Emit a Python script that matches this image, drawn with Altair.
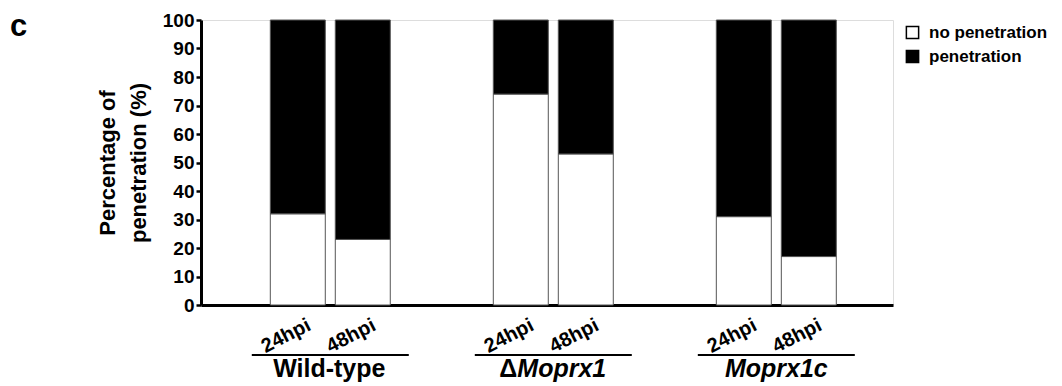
import altair as alt
import pandas as pd

panel_label = ["c"]
groups = ["Wild-type", "ΔMoprx1", "Moprx1c"]
times = ["24hpi", "48hpi"]
bar_group = ["Wild-type", "Wild-type", "ΔMoprx1", "ΔMoprx1", "Moprx1c", "Moprx1c"]
bar_time = ["24hpi", "48hpi", "24hpi", "48hpi", "24hpi", "48hpi"]
no_penetration = [32, 23, 74, 53, 31, 17]
penetration = [68, 77, 26, 47, 69, 83]
series = ["no penetration", "penetration"]
series_colors = ["white", "black"]
y_ticks = [0, 10, 20, 30, 40, 50, 60, 70, 80, 90, 100]
y_title = ["Percentage of", "penetration (%)"]

rows = []
for g, t, a, b in zip(bar_group, bar_time, no_penetration, penetration):
    rows.append(dict(group=g, time=t, status=series[0], value=a, order=0))
    rows.append(dict(group=g, time=t, status=series[1], value=b, order=1))
df = pd.DataFrame(rows)
bars_df = pd.DataFrame({"group": bar_group, "time": bar_time})
groups_df = pd.DataFrame({"group": groups})

FONT = "Liberation Sans"

xscale = alt.Scale(domain=groups, paddingInner=0.462, paddingOuter=0.2825, align=0.55)
xoscale = alt.Scale(domain=times, paddingInner=0.154, paddingOuter=0)

bars = alt.Chart(df).mark_bar(stroke="#555555", strokeWidth=1).encode(
    x=alt.X("group:N", scale=xscale, sort=groups,
            axis=alt.Axis(labels=False, ticks=False, title=None, domainWidth=3,
                          domainColor="black", grid=False)),
    xOffset=alt.XOffset("time:N", scale=xoscale, sort=times),
    y=alt.Y("value:Q", stack="zero", scale=alt.Scale(domain=[0, 100]),
            axis=alt.Axis(values=y_ticks, tickSize=5, tickWidth=2.5, tickColor="black",
                          domainWidth=3, domainColor="black", labelFont=FONT,
                          labelFontSize=19, labelFontWeight="bold", labelColor="black",
                          labelPadding=2, grid=False, title=y_title, titleFont=FONT,
                          titleFontSize=22, titleFontWeight="bold", titleColor="black",
                          titlePadding=12, titleLineHeight=31)),
    color=alt.Color("status:N", scale=alt.Scale(domain=series, range=series_colors),
                    legend=alt.Legend(title=None, orient="none", legendX=703, legendY=4,
                                      symbolType="square", symbolSize=150,
                                      symbolStrokeColor="black", symbolStrokeWidth=1.5,
                                      labelFont=FONT, labelFontSize=17,
                                      labelFontWeight="bold", labelColor="black",
                                      labelOffset=8, rowPadding=5, padding=0)),
    order=alt.Order("order:Q"),
)

time_text = alt.Chart(bars_df).mark_text(
    angle=333, align="right", baseline="middle", dx=13, font=FONT, fontSize=20,
    fontWeight="bold", color="black"
).encode(
    x=alt.X("group:N", sort=groups),
    xOffset=alt.XOffset("time:N", sort=times),
    y=alt.value(310),
    text="time:N",
)

underline = alt.Chart(groups_df).mark_tick(
    orient="horizontal", size=157, thickness=2, color="black", opacity=1
).encode(
    x=alt.X("group:N", sort=groups),
    y=alt.value(335),
)

label_common = dict(baseline="alphabetic", font=FONT, fontSize=25, fontWeight="bold", color="black")

wt_label = alt.Chart(groups_df).transform_filter(
    alt.datum.group == groups[0]
).mark_text(align="center", dx=-1, **label_common).encode(
    x=alt.X("group:N", sort=groups), y=alt.value(357), text=alt.value("Wild-type")
)

delta_label = alt.Chart(groups_df).transform_filter(
    alt.datum.group == groups[1]
).mark_text(align="right", dx=-36, **label_common).encode(
    x=alt.X("group:N", sort=groups), y=alt.value(357), text=alt.value("Δ")
)

mo_label = alt.Chart(groups_df).transform_filter(
    alt.datum.group == groups[1]
).mark_text(align="left", dx=-36, fontStyle="italic", **label_common).encode(
    x=alt.X("group:N", sort=groups), y=alt.value(357), text=alt.value("Moprx1")
)

moc_label = alt.Chart(groups_df).transform_filter(
    alt.datum.group == groups[2]
).mark_text(align="center", fontStyle="italic", **label_common).encode(
    x=alt.X("group:N", sort=groups), y=alt.value(357), text=alt.value("Moprx1c")
)

panel = alt.Chart(pd.DataFrame({"t": panel_label})).mark_text(
    align="left", baseline="alphabetic", font=FONT, fontSize=31, fontWeight="bold", color="black"
).encode(x=alt.value(-191), y=alt.value(16), text="t:N")

chart = alt.layer(
    bars, time_text, underline, wt_label, delta_label, mo_label, moc_label, panel
).properties(
    width=692, height=285,
    autosize=alt.AutoSizeParams(type="none"),
    padding={"left": 193, "top": 12, "right": 161, "bottom": 78},
).configure_view(
    stroke="black", strokeWidth=2
).configure(background="white")

chart.save("out.html", embed_options={"renderer": "svg", "actions": False})
